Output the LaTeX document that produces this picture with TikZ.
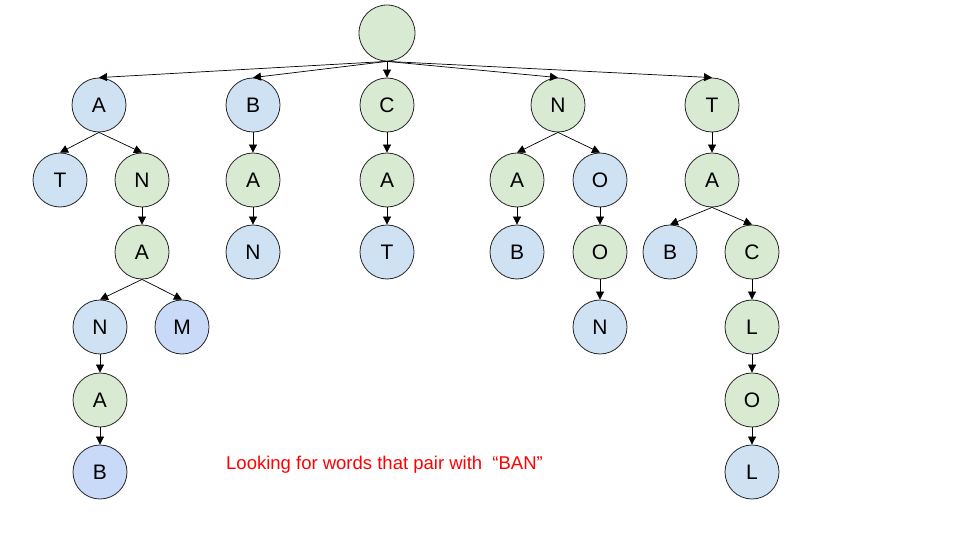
\documentclass[tikz,border=0pt]{standalone}
\usepackage{fontspec}
\setmainfont{Liberation Sans}
\usetikzlibrary{arrows.meta}
\definecolor{nodegreen}{HTML}{D9EAD3}
\definecolor{nodeblue}{HTML}{CFE2F3}
\definecolor{nodeviolet}{HTML}{C9DAF8}
\definecolor{labelred}{HTML}{FF0000}
\begin{document}
\begin{tikzpicture}[x=1pt,y=-1pt,
  letter/.style={circle,draw=black!85,line width=0.8pt,minimum size=54pt,inner sep=0pt,font=\fontsize{21}{21}\selectfont},
  gr/.style={letter,fill=nodegreen},
  bl/.style={letter,fill=nodeblue},
  vi/.style={letter,fill=nodeviolet},
  link/.style={-{Triangle[length=8pt,width=8pt]},line width=0.7pt,black}
]
\useasboundingbox (0,0) rectangle (960,540);
% root
\node[gr,minimum size=56pt] (r) at (387,33) {};
% first letters
\node[bl] (a) at (99,105) {A};
\node[bl] (b) at (253,105) {B};
\node[gr] (c) at (387,105) {C};
\node[gr] (n) at (558,105) {N};
\node[gr] (t) at (712,105) {T};
% branch A
\node[bl] (at) at (60,180) {T};
\node[gr] (an) at (142,180) {N};
\node[gr] (ana) at (142,252) {A};
\node[bl] (anan) at (100,327) {N};
\node[vi] (anam) at (182,327) {M};
\node[gr] (anana) at (100,400) {A};
\node[vi] (ananab) at (100,472) {B};
% branch B
\node[gr] (ba) at (253,180) {A};
\node[bl] (ban) at (253,252) {N};
% branch C
\node[gr] (ca) at (387,180) {A};
\node[bl] (cat) at (387,252) {T};
% branch N
\node[gr] (na) at (517,180) {A};
\node[bl] (nab) at (517,252) {B};
\node[bl] (no) at (600,180) {O};
\node[gr] (noo) at (600,252) {O};
\node[bl] (noon) at (600,327) {N};
% branch T
\node[gr] (ta) at (712,180) {A};
\node[bl] (tab) at (670,252) {B};
\node[gr] (tac) at (752,252) {C};
\node[gr] (tacl) at (752,327) {L};
\node[gr] (taclo) at (752,400) {O};
\node[bl] (taclol) at (752,472) {L};
% edges
\foreach \p/\c in {r/a,r/b,r/c,r/n,r/t,
  a/at,a/an,an/ana,ana/anan,ana/anam,anan/anana,anana/ananab,
  b/ba,ba/ban,c/ca,ca/cat,
  n/na,na/nab,n/no,no/noo,noo/noon,
  t/ta,ta/tab,ta/tac,tac/tacl,tacl/taclo,taclo/taclol}
  \draw[link] (\p.south) -- (\c.north);
% caption
\node[anchor=west,text=labelred,font=\fontsize{18.5}{18.5}\selectfont,inner sep=0pt] (cap) at (226,465) {Looking for words that pair with\ \ “BAN”};
\end{tikzpicture}
\end{document}
